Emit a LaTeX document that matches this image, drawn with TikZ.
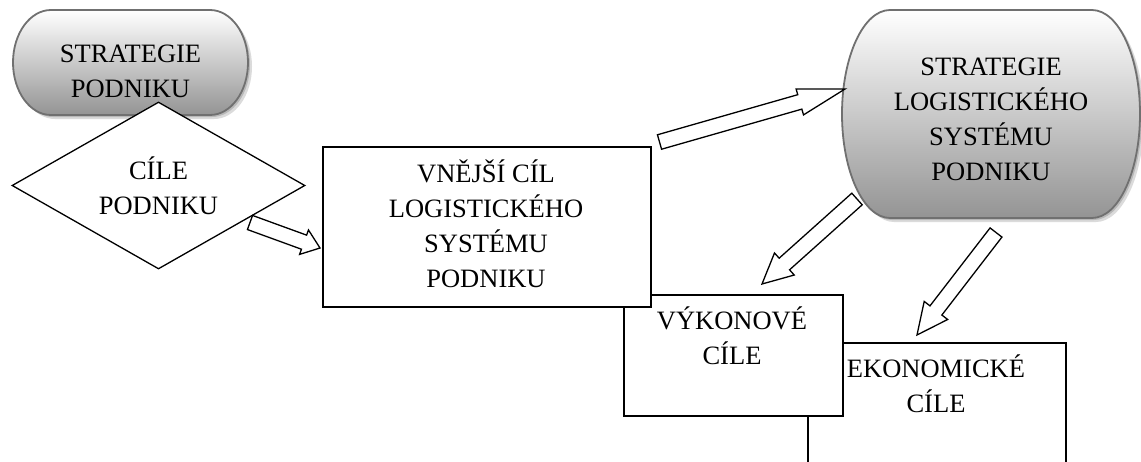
\documentclass[tikz,border=0pt]{standalone}
\usepackage{fontspec}
\setmainfont{Liberation Serif}
\usetikzlibrary{calc,shapes.geometric}
\definecolor{outl}{HTML}{707070}
\newcommand\blockarrow[5]{%
  \coordinate (hb) at ($(#2)!#3pt!(#1)$);
  \draw[barrow] ($(#1)!#4pt!90:(#2)$) -- ($(hb)!#4pt!90:(#2)$) -- ($(hb)!#5pt!90:(#2)$) -- (#2)
     -- ($(hb)!#5pt!-90:(#2)$) -- ($(hb)!#4pt!-90:(#2)$) -- ($(#1)!#4pt!-90:(#2)$) -- cycle;}
\tikzset{
  box/.style={draw=black, fill=white, line width=1.5pt, rectangle, anchor=north west, inner sep=0pt},
  txt/.style={align=center, anchor=base, inner sep=0pt, font=\fontsize{26.5}{35}\selectfont},
  barrow/.style={draw=black, fill=white, line width=1.3pt, line join=miter},
  term/.style={draw=outl, line width=1.8pt, top color=white, bottom color=black!42},
  shad/.style={fill=black!30, draw=none}
}
\begin{document}
\begin{tikzpicture}[x=1pt,y=-1pt]
\clip (0,0) rectangle (1141,461);
\fill[white] (0,0) rectangle (1141,461);
% STRATEGIE PODNIKU terminator
\fill[black!14] (55,14) -- (214,14) arc[start angle=-90,end angle=90,x radius=38,y radius=52.5] -- (55,119) arc[start angle=90,end angle=270,x radius=38,y radius=52.5] -- cycle;
\fill[black!28] (53,12) -- (212,12) arc[start angle=-90,end angle=90,x radius=38,y radius=52.5] -- (53,117) arc[start angle=90,end angle=270,x radius=38,y radius=52.5] -- cycle;
\path[term] (51,10) -- (210,10) arc[start angle=-90,end angle=90,x radius=38,y radius=52.5] -- (51,115) arc[start angle=90,end angle=270,x radius=38,y radius=52.5] -- cycle;
\node[txt] (sp) at (130.5,97.5) {STRATEGIE\\PODNIKU};
% diamond
\node[draw=black, fill=white, line width=1.3pt, diamond, minimum width=293pt, minimum height=167pt, inner sep=0pt] (cil) at (158.5,185.5) {};
\node[txt] (ciltxt) at (158.5,214.5) {CÍLE\\PODNIKU};
% boxes
\node[box, minimum width=258pt, minimum height=140pt] (ekon) at (807,342) {};
\node[txt] (ekontxt) at (936,412) {EKONOMICKÉ\\CÍLE};
\node[box, minimum width=219pt, minimum height=121pt] (vykon) at (623,294) {};
\node[txt] (vykontxt) at (732,364.5) {VÝKONOVÉ\\CÍLE};
\node[box, minimum width=328pt, minimum height=160pt] (vnejsi) at (322,146) {};
\node[txt] (vnejsitxt) at (486,287) {VNĚJŠÍ CÍL\\LOGISTICKÉHO\\SYSTÉMU\\PODNIKU};
% STRATEGIE LOGISTICKEHO SYSTEMU PODNIKU terminator
\fill[black!14] (894,14) -- (1096,14) arc[start angle=-90,end angle=90,x radius=48,y radius=104] -- (894,222) arc[start angle=90,end angle=270,x radius=48,y radius=104] -- cycle;
\fill[black!28] (892,12) -- (1094,12) arc[start angle=-90,end angle=90,x radius=48,y radius=104] -- (892,220) arc[start angle=90,end angle=270,x radius=48,y radius=104] -- cycle;
\path[term] (890,10) -- (1092,10) arc[start angle=-90,end angle=90,x radius=48,y radius=104] -- (890,218) arc[start angle=90,end angle=270,x radius=48,y radius=104] -- cycle;
\node[txt] (slsp) at (991,180) {STRATEGIE\\LOGISTICKÉHO\\SYSTÉMU\\PODNIKU};
% block arrows
\coordinate (a1t) at (250,222.5); \coordinate (a1h) at (320,248);
\coordinate (a2t) at (659.5,142); \coordinate (a2h) at (845,89);
\coordinate (a3t) at (857,199);   \coordinate (a3h) at (762,284);
\coordinate (a4t) at (996,232.5); \coordinate (a4h) at (917,335);
\blockarrow{a1t}{a1h}{17}{7.5}{13}
\blockarrow{a2t}{a2h}{47}{7.5}{13.5}
\blockarrow{a3t}{a3h}{30}{7.8}{14.8}
\blockarrow{a4t}{a4h}{31}{7.5}{14.8}
\end{tikzpicture}
\end{document}
